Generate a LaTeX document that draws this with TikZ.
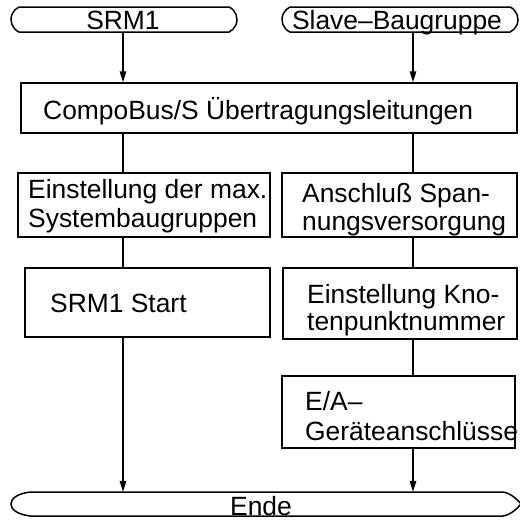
\documentclass[tikz,border=0pt]{standalone}
\usepackage{fontspec}
\setmainfont{Liberation Sans}
\usetikzlibrary{arrows.meta,shapes.misc}
\tikzset{
  ln/.style={line width=1.5pt},
  arr/.style={line width=1.5pt,-{Triangle[length=11pt,width=6.5pt]}},
  box/.style={draw,line width=1.5pt,inner sep=0pt},
  term/.style={draw,line width=1.5pt,rounded rectangle,rounded rectangle arc length=130,inner sep=0pt},
  txt/.style={inner sep=0pt,align=left,font=\fontsize{26.4}{#1}\selectfont},
  txt/.default=28
}
\begin{document}
\begin{tikzpicture}[x=1pt,y=-1pt]
\useasboundingbox (0,0) rectangle (520,520);
% terminators
\node[term,minimum width=226pt,minimum height=25pt] (srm) at (124,19.5) {};
\node[term,minimum width=236pt,minimum height=25pt] (slave) at (400,19.5) {};
\node[minimum width=509pt,minimum height=24pt,inner sep=0pt] (ende) at (265.5,504) {};
\draw[ln] (30,492) -- (503,492) .. controls (510,493) and (517,499) .. (521,504)
  .. controls (517,509) and (510,515) .. (503,516) -- (30,516)
  .. controls (16,514) and (11,509) .. (11,504) .. controls (11,499) and (16,494) .. (30,492) -- cycle;
% boxes
\node[box,minimum width=496pt,minimum height=50pt] (bus) at (269,108) {};
\node[box,minimum width=252pt,minimum height=64pt] (A1) at (144,205) {};
\node[box,minimum width=235pt,minimum height=64pt] (B1) at (399.5,205) {};
\node[box,minimum width=245pt,minimum height=69pt] (A2) at (147.5,302.5) {};
\node[box,minimum width=234pt,minimum height=71pt] (B2) at (400,303.5) {};
\node[box,minimum width=233pt,minimum height=72pt] (B3) at (398.5,412) {};
% texts (base anchor = baseline of last line)
\node[txt,anchor=base] (srmT) at (123,29) {SRM1};
\node[txt,anchor=base] (slaveT) at (397,29) {Slave–Baugruppe};
\node[txt,anchor=base] (endeT) at (261,515) {Ende};
\node[txt,anchor=base west] (busT) at (43,119) {CompoBus/S Übertragungsleitungen};
\node[txt=29,anchor=base west] (A1T) at (28,227) {Einstellung der max.\\Systembaugruppen};
\node[txt=28,anchor=base west] (B1T) at (302,230) {Anschluß Span-\\nungsversorgung};
\node[txt,anchor=base west] (A2T) at (50,312) {SRM1 Start};
\node[txt=27,anchor=base west] (B2T) at (307,330) {Einstellung Kno-\\tenpunktnummer};
\node[txt=30,anchor=base west] (B3T) at (305,440) {E/A–\\Geräteanschlüsse};
% connectors
\coordinate (lx) at (123,0);
\coordinate (rx) at (413,0);
\draw[arr] (lx |- srm.south) -- (lx |- bus.north);
\draw[arr] (rx |- slave.south) -- (rx |- bus.north);
\draw[ln] (lx |- bus.south) -- (lx |- A1.north);
\draw[ln] (rx |- bus.south) -- (rx |- B1.north);
\draw[ln] (lx |- A1.south) -- (lx |- A2.north);
\draw[ln] (rx |- B1.south) -- (rx |- B2.north);
\draw[ln] (rx |- B2.south) -- (rx |- B3.north);
\draw[arr] (lx |- A2.south) -- (lx |- ende.north);
\draw[arr] (rx |- B3.south) -- (rx |- ende.north);
\end{tikzpicture}
\end{document}
